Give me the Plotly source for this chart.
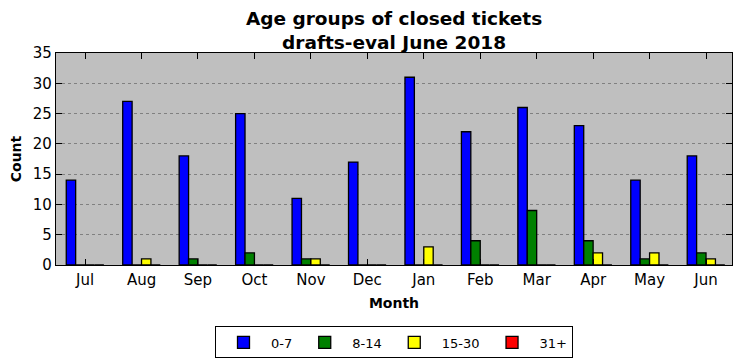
import plotly.graph_objects as go

months = ["Jul", "Aug", "Sep", "Oct", "Nov", "Dec", "Jan", "Feb", "Mar", "Apr", "May", "Jun"]
age_0_7 = [14, 27, 18, 25, 11, 17, 31, 22, 26, 23, 14, 18]
age_8_14 = [0, 0, 1, 2, 1, 0, 0, 4, 9, 4, 1, 2]
age_15_30 = [0, 1, 0, 0, 1, 0, 3, 0, 0, 2, 2, 1]
age_31_plus = [0, 0, 0, 0, 0, 0, 0, 0, 0, 0, 0, 0]

series = [("0-7", age_0_7, "#0000ff"), ("8-14", age_8_14, "#008000"),
          ("15-30", age_15_30, "#ffff00"), ("31+", age_31_plus, "#ff0000")]

fig = go.Figure()
for name, vals, col in series:
    fig.add_trace(go.Bar(x=list(range(len(months))), y=vals, name=name,
                         marker=dict(color=col, line=dict(color="black", width=1.3))))

font = "DejaVu Sans, sans-serif"
# the page body adds an 8px offset, so the figure is sized 734x353
fig.update_layout(
    width=734, height=353,
    margin=dict(l=48, r=10, t=45, b=96, autoexpand=False),
    paper_bgcolor="white", plot_bgcolor="#bfbfbf",
    barmode="group", bargap=1/3, bargroupgap=0,
    font=dict(family=font, color="black"),
    title=dict(text="<b>Age groups of closed tickets<br>drafts-eval June 2018</b>",
               x=0.526, xanchor="center", y=0.952, yanchor="top",
               font=dict(size=18.5, family=font)),
    legend=dict(orientation="h", x=0.5, xanchor="center", y=-0.29, yanchor="top",
                bordercolor="black", borderwidth=1, font=dict(size=13, family=font),
                itemwidth=45, traceorder="normal"),
    showlegend=True,
)
fig.update_xaxes(range=[-0.515, 11.46], tickmode="array",
                 tickvals=list(range(len(months))), ticktext=months,
                 ticks="inside", ticklen=6, tickcolor="black", mirror="allticks",
                 showline=True, linecolor="black", linewidth=1.2, automargin=False,
                 showgrid=False, zeroline=False, tickfont=dict(size=15),
                 ticklabelstandoff=1,
                 title=dict(text="<b>Month</b>", font=dict(size=14), standoff=10))
fig.update_yaxes(range=[0, 35], tickvals=[0, 5, 10, 15, 20, 25, 30, 35],
                 ticks="inside", ticklen=6, tickcolor="black", mirror="allticks",
                 showline=True, linecolor="black", linewidth=1.2, automargin=False,
                 showgrid=True, gridcolor="#808080", griddash="dot", gridwidth=1,
                 zeroline=False, tickfont=dict(size=15),
                 title=dict(text="<b>Count</b>", font=dict(size=14), standoff=10))

fig.write_html("out.html")
